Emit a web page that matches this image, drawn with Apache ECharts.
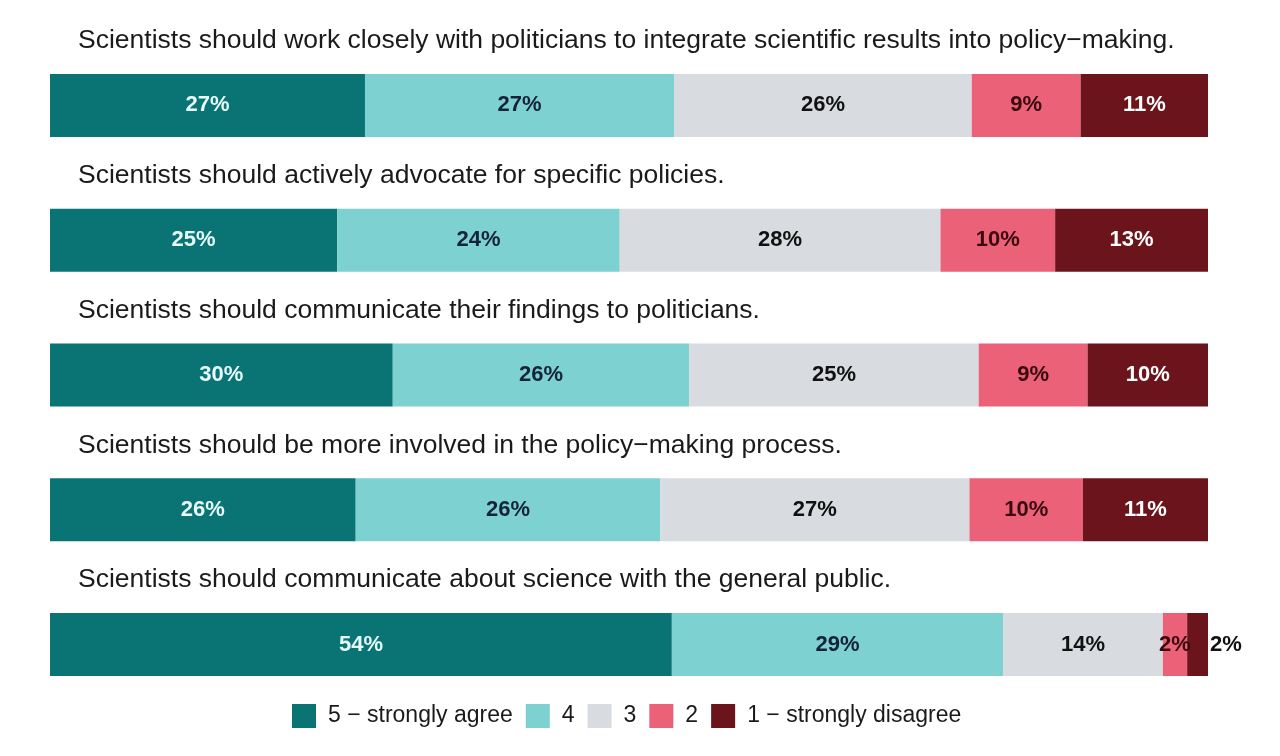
<!DOCTYPE html>
<html>
<head>
<meta charset="utf-8">
<script src="https://cdn.jsdelivr.net/npm/echarts@6/dist/echarts.min.js"></script>
<style>html,body{margin:0;padding:0;background:#fff;}#c{width:1280px;height:756px;}</style>
</head>
<body>
<div id="c"></div>
<script>
const statements = [
  "Scientists should work closely with politicians to integrate scientific results into policy\u2212making.",
  "Scientists should actively advocate for specific policies.",
  "Scientists should communicate their findings to politicians.",
  "Scientists should be more involved in the policy\u2212making process.",
  "Scientists should communicate about science with the general public."
];
const levels = ["5 \u2212 strongly agree", "4", "3", "2", "1 \u2212 strongly disagree"];
const agree5   = [27.2, 24.8, 29.6, 26.4, 53.7];
const agree4   = [26.7, 24.4, 25.6, 26.3, 28.6];
const neutral3 = [25.7, 27.7, 25.0, 26.7, 13.8];
const disagree2= [9.4, 9.9, 9.4, 9.8, 2.1];
const disagree1= [11.0, 13.2, 10.4, 10.8, 1.8];

const colors = ["#0a7373", "#7ed1d1", "#d8dbe0", "#ea6178", "#6b141b"];
const labelColors = ["#e8fbfb", "#14233a", "#111111", "#3a0a10", "#ffffff"];
const seriesData = [agree5, agree4, neutral3, disagree2, disagree1];
const FONT = 'Liberation Sans, Arial, sans-serif';

const chart = echarts.init(document.getElementById('c'));
const series = seriesData.map((arr, i) => ({
  name: levels[i],
  type: 'bar',
  stack: 'total',
  barWidth: 63,
  itemStyle: { color: colors[i] },
  label: {
    show: true,
    position: 'inside',
    color: labelColors[i],
    fontFamily: FONT,
    fontWeight: 'bold',
    fontSize: 22,
    formatter: p => Math.round(p.value) + '%'
  },
  data: arr.map((v, j) => {
    if (i === 4 && j === 4) {
      return { value: v, label: { position: 'right', distance: 2, color: '#111111' } };
    }
    return v;
  })
}));

chart.setOption({
  animation: false,
  backgroundColor: '#ffffff',
  grid: { left: 50, right: 72, top: 38, bottom: 44, containLabel: false, outerBoundsMode: 'none' },
  xAxis: {
    type: 'value', min: 0, max: 100,
    show: false
  },
  yAxis: {
    type: 'category',
    inverse: true,
    data: statements,
    axisLine: { show: false },
    axisTick: { show: false },
    splitLine: { show: false },
    axisLabel: {
      inside: true,
      interval: 0,
      showMinLabel: true,
      showMaxLabel: true,
      hideOverlap: false,
      margin: 28,
      align: 'left',
      verticalAlign: 'bottom',
      lineHeight: 129,
      color: '#1a1a1a',
      fontFamily: FONT,
      fontSize: 26.5
    },
    z: 10
  },
  legend: {
    top: 699,
    left: 287,
    icon: 'rect',
    itemWidth: 24,
    itemHeight: 24,
    itemGap: 13,
    data: levels,
    textStyle: {
      color: '#1a1a1a',
      fontFamily: FONT,
      fontSize: 23,
      padding: [0, 0, 0, 7]
    }
  },
  series: series
});
</script>
</body>
</html>
